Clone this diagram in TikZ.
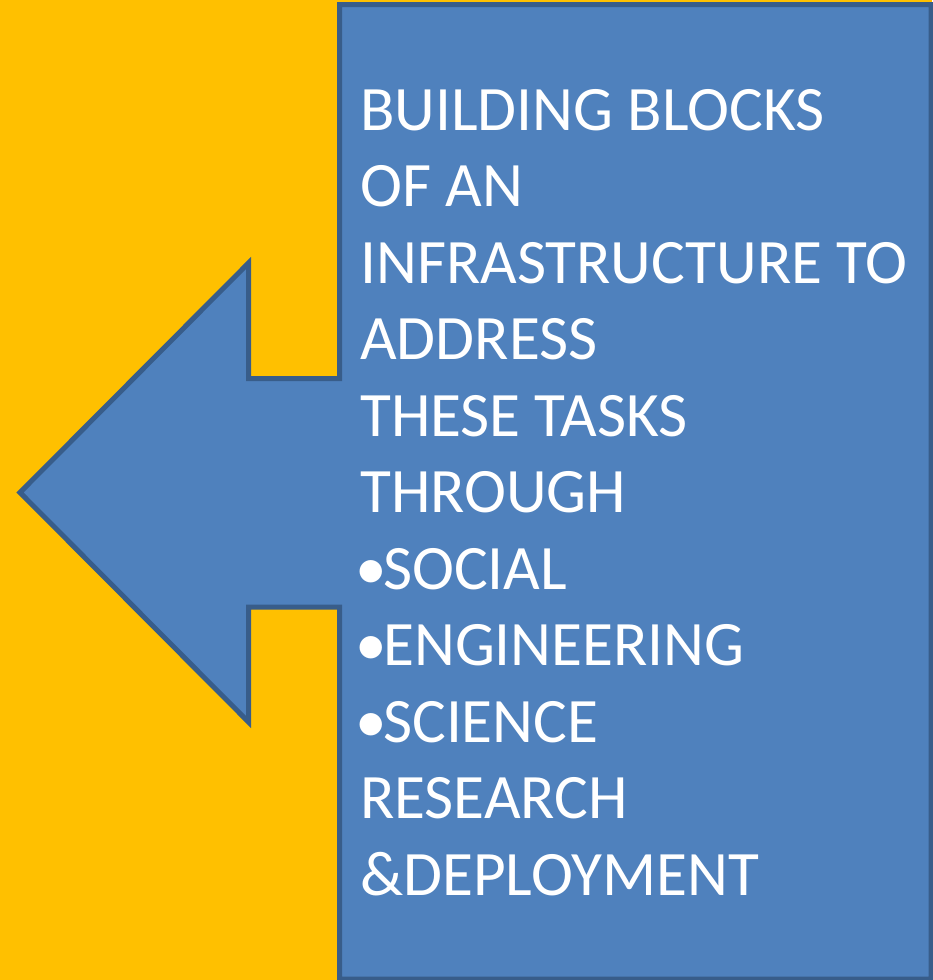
\documentclass[tikz,border=0pt]{standalone}
\usepackage{fontspec}
\setmainfont{Carlito}
\definecolor{bgyellow}{HTML}{FFC000}
\definecolor{calloutblue}{HTML}{4F81BD}
\definecolor{calloutedge}{HTML}{385D8A}
\newcommand\mybullet{\makebox[24pt][c]{\textbullet}}
\tikzset{
  callout/.style={fill=calloutblue, draw=calloutedge, line width=5pt, line join=miter},
  calltext/.style={text=white, font=\fontsize{63.3}{76}\selectfont, anchor=base west, inner sep=0pt}
}
\begin{document}
\begin{tikzpicture}[x=1pt,y=-1pt]
\fill[bgyellow] (0,0) rectangle (932,980);
\useasboundingbox (0,0) rectangle (932,980);
\draw[callout] (339.5,4.5) -- (931,4.5) -- (931,979) -- (339.5,979) -- (339.5,607)
  -- (248.5,607) -- (248.5,722) -- (20,492.5) -- (248.5,263) -- (248.5,378.5)
  -- (339.5,378.5) -- cycle;
\node[calltext] (l1) at (360,130) {BUILDING BLOCKS};
\node[calltext] (l2) at (360,206.5) {OF AN};
\node[calltext] (l3) at (360,283) {INFRASTRUCTURE TO};
\node[calltext] (l4) at (360,359.5) {ADDRESS};
\node[calltext] (l5) at (360,436) {THESE TASKS};
\node[calltext] (l6) at (360,512.5) {THROUGH};
\node[calltext] (l7) at (359,589) {\mybullet SOCIAL};
\node[calltext] (l8) at (359,665.5) {\mybullet ENGINEERING};
\node[calltext] (l9) at (359,742) {\mybullet SCIENCE};
\node[calltext] (l10) at (360,818.5) {RESEARCH};
\node[calltext] (l11) at (360,895) {\&DEPLOYMENT};
\end{tikzpicture}
\end{document}
